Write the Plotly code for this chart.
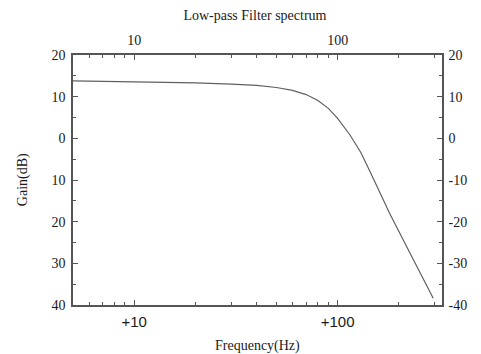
import plotly.graph_objects as go

freq_hz = [5, 10, 20, 30, 40, 50, 60, 70, 80, 90, 100, 115, 130, 145, 180, 227, 295]
gain_db = [13.8, 13.6, 13.3, 13.0, 12.7, 12.2, 11.5, 10.5, 9.1, 7.2, 4.8, 0.8, -3.4, -8.2, -18.0, -27.6, -38.4]

x_major = [10, 100]
x_bottom_labels = ["+10", "+100"]
x_top_labels = ["10", "100"]
x_minor = [6, 7, 8, 9, 20, 30, 40, 50, 60, 70, 80, 90, 200, 300]
y_vals = [20, 10, 0, -10, -20, -30, -40]
y_left_labels = ["20", "10", "0", "10", "20", "30", "40"]
y_right_labels = ["20", "10", "0", "-10", "-20", "-30", "-40"]

AX = "#555555"
TXT = "#1a1a1a"
serif = "Liberation Serif, Times New Roman, serif"
sans = "Liberation Sans, Arial, sans-serif"

fig = go.Figure()
fig.add_trace(go.Scatter(x=freq_hz, y=gain_db, mode="lines",
                         line=dict(color="#606060", width=1.2),
                         showlegend=False, hoverinfo="skip"))
# invisible trace for secondary axes
fig.add_trace(go.Scatter(x=freq_hz, y=gain_db, xaxis="x2", yaxis="y2", mode="lines",
                         line=dict(width=0), opacity=0, showlegend=False, hoverinfo="skip"))

xr = [0.69897, 2.513]
fig.update_layout(
    width=481, height=354,
    margin=dict(l=73, r=39, t=55, b=49),
    paper_bgcolor="white", plot_bgcolor="white",
    xaxis=dict(type="log", range=xr, tickmode="array", tickvals=x_major, ticktext=x_bottom_labels,
               ticks="inside", ticklen=5, tickcolor=AX, showline=True, linecolor=AX, linewidth=1.5,
               showgrid=False, zeroline=False,
               minor=dict(tickmode="array", tickvals=x_minor, ticks="inside", ticklen=3, tickcolor=AX, showgrid=False),
               tickfont=dict(family=sans, size=15, color=TXT), ticklabelstandoff=2),
    xaxis2=dict(type="log", range=xr, overlaying="x", side="top", anchor="y", tickmode="array",
                tickvals=x_major, ticktext=x_top_labels, ticks="inside", ticklen=5, tickcolor=AX,
                showline=True, linecolor=AX, linewidth=1.5, showgrid=False, zeroline=False,
                minor=dict(tickmode="array", tickvals=x_minor, ticks="inside", ticklen=3, tickcolor=AX, showgrid=False),
                tickfont=dict(family=serif, size=14, color=TXT), ticklabelstandoff=3),
    yaxis=dict(range=[-40, 20], tickmode="array", tickvals=y_vals, ticktext=y_left_labels,
               ticks="inside", ticklen=5, tickcolor=AX, showline=True, linecolor=AX, linewidth=1.5,
               showgrid=False, zeroline=False,
               minor=dict(dtick=5, ticks="inside", ticklen=3, tickcolor=AX, showgrid=False),
               tickfont=dict(family=serif, size=14, color=TXT), ticklabelstandoff=3),
    yaxis2=dict(range=[-40, 20], overlaying="y", side="right", anchor="x", tickmode="array",
                tickvals=y_vals, ticktext=y_right_labels, ticks="inside", ticklen=5, tickcolor=AX,
                showline=True, linecolor=AX, linewidth=1.5, showgrid=False, zeroline=False,
                minor=dict(dtick=5, ticks="inside", ticklen=3, tickcolor=AX, showgrid=False),
                tickfont=dict(family=serif, size=14, color=TXT), ticklabelstandoff=2),
    title=dict(text="Low-pass Filter spectrum", x=0.53, xanchor="center", y=1 - 15 / 354,
               yanchor="middle", yref="container", font=dict(family=serif, size=14, color=TXT)),
    annotations=[
        dict(text="Frequency(Hz)", xref="paper", yref="paper", x=0.5, y=-0.164, showarrow=False,
             xanchor="center", yanchor="middle", font=dict(family=serif, size=14, color=TXT)),
        dict(text="Gain(dB)", xref="paper", yref="paper", x=-0.135, y=0.5, showarrow=False,
             textangle=-90, xanchor="center", yanchor="middle", font=dict(family=serif, size=14, color=TXT)),
    ],
)
fig.write_html("out.html")
